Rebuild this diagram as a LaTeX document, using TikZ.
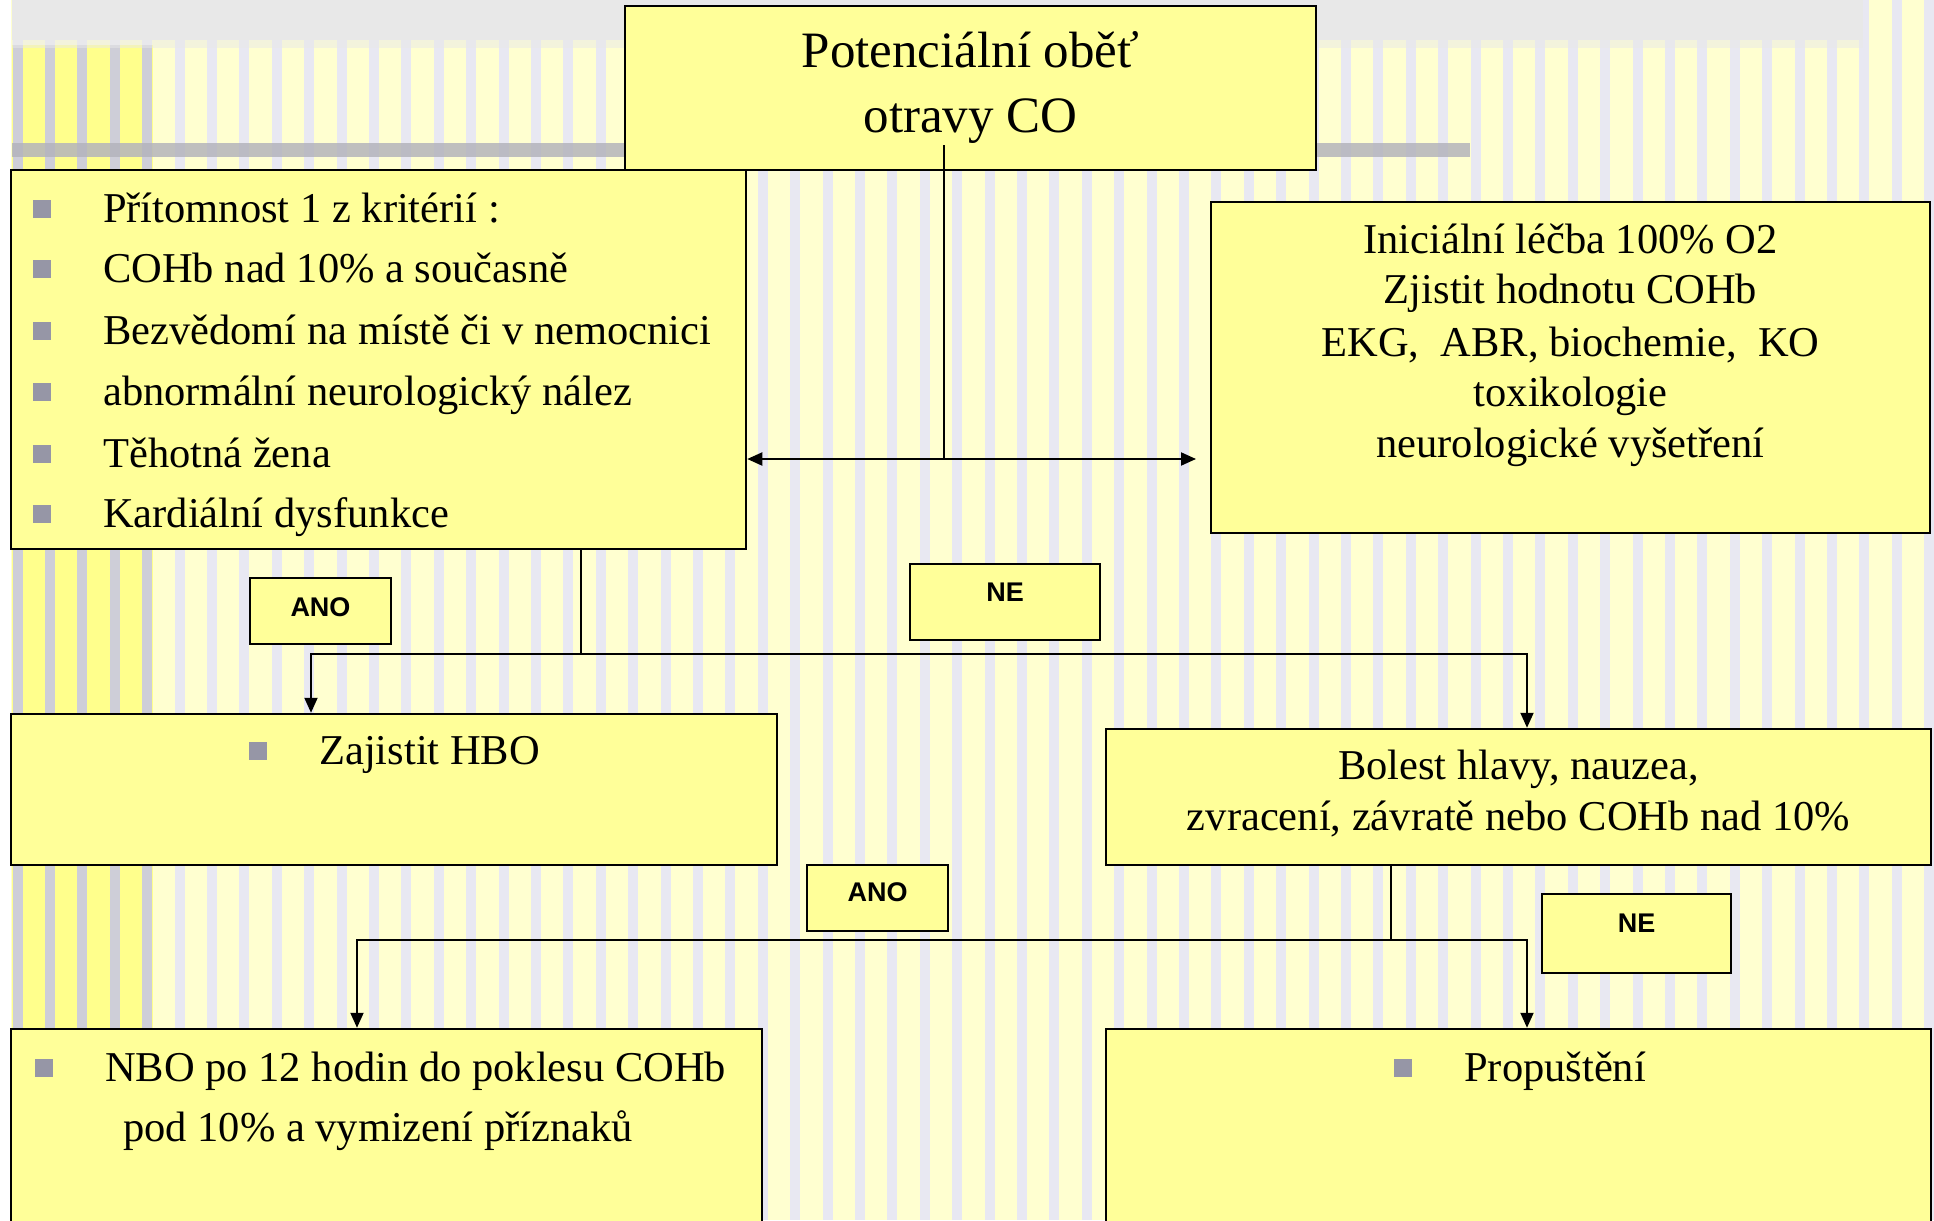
\documentclass[tikz,border=0pt]{standalone}
\usepackage{fontspec}
\setmainfont{Liberation Serif}
\newfontfamily\labelfont{Liberation Sans}
\usetikzlibrary{arrows.meta}
\definecolor{boxyellow}{RGB}{255,255,153}
\definecolor{paleyellow}{RGB}{255,255,208}
\definecolor{stripelav}{RGB}{232,232,242}
\definecolor{deepyellow}{RGB}{255,255,140}
\definecolor{stripegray}{RGB}{206,206,216}
\definecolor{bandgray}{RGB}{232,232,232}
\definecolor{bargray}{RGB}{180,180,188}
\definecolor{bulletgray}{RGB}{150,150,166}
\newcommand{\blt}{\makebox[70pt][l]{\textcolor{bulletgray}{\raisebox{4pt}{\rule{18pt}{18pt}}}}}
\begin{document}
\begin{tikzpicture}[x=1pt,y=-1pt]
\tikzstyle{every node}+=[inner sep=0pt]
\tikzstyle{box}=[draw=black, fill=boxyellow, line width=2.5pt]
\tikzstyle{txt}=[font=\fontsize{42.5}{61}\selectfont, anchor=base]
\tikzstyle{txtl}=[txt, anchor=base west]
\tikzstyle{tag}=[font=\labelfont\bfseries\fontsize{27}{32}\selectfont]
\tikzstyle{wire}=[line width=2pt]
\tikzstyle{arr}=[wire, -{Triangle[length=15pt,width=13pt]}]
\useasboundingbox (0,0) rectangle (1934,1220);
\clip (0,0) rectangle (1934,1220);
\fill [paleyellow] (0,0) rectangle (1934,1220);
\foreach \k in {0,...,59} \fill [stripelav] ({12.6+32.4*\k},0) rectangle ++(10,1220);
\fill [deepyellow] (12,45) rectangle (153,1220);
\foreach \k in {0,...,4} \fill [stripegray] ({12.6+32.4*\k},45) rectangle ++(10,1175);
\fill [bandgray] (12,0) rectangle (1863,40);
\fill [bandgray, opacity=0.5] (12,40) rectangle (1863,48);
\fill [bargray, opacity=0.85] (12,143) rectangle (1470,157);
\fill [white] (0,0) rectangle (11,1220);
\node [box, minimum width=691pt, minimum height=164pt] (top) at (970.5,88) {};
\node [box, minimum width=735pt, minimum height=379pt] (crit) at (378.5,359.5) {};
\node [box, minimum width=719pt, minimum height=331pt] (init) at (1570.5,367.5) {};
\node [box, minimum width=766pt, minimum height=151pt] (hbo) at (394,789.5) {};
\node [box, minimum width=825pt, minimum height=136pt] (symp) at (1518.5,797) {};
\node [box, minimum width=751pt, minimum height=211pt] (nbo) at (386.5,1134.5) {};
\node [box, minimum width=825pt, minimum height=211pt] (dis) at (1518.5,1134.5) {};
\node [box, minimum width=141pt, minimum height=66pt] (yes1) at (320.5,611) {};
\node [box, minimum width=190pt, minimum height=76pt] (no1) at (1005,602) {};
\node [box, minimum width=141pt, minimum height=66pt] (yes2) at (877.5,898) {};
\node [box, minimum width=189pt, minimum height=79pt] (no2) at (1636.5,933.5) {};
\node [txt, font=\fontsize{51}{64}\selectfont] (top1) at (970.5,68) {Potenciální oběť};
\node [txt, font=\fontsize{51}{64}\selectfont] (top2) at (970.5,132) {otravy CO};
\node [txtl] (k1) at (33,222) {\blt Přítomnost 1 z kritérií :};
\node [txtl] (k2) at (33,282) {\blt COHb nad 10\% a současně};
\node [txtl] (k3) at (33,344) {\blt Bezvědomí na místě či v nemocnici};
\node [txtl] (k4) at (33,405) {\blt abnormální neurologický nález};
\node [txtl] (k5) at (33,467) {\blt Těhotná žena};
\node [txtl] (k6) at (33,527) {\blt Kardiální dysfunkce};
\node [txt] (i1) at (1570.5,253) {Iniciální léčba 100\% O2};
\node [txt] (i2) at (1570.5,303.5) {Zjistit hodnotu COHb};
\node [txt] (i3) at (1570.5,356) {EKG,\ \ ABR, biochemie,\ \ KO};
\node [txt] (i4) at (1570.5,406.6) {toxikologie};
\node [txt] (i5) at (1570.5,457) {neurologické vyšetření};
\node [txtl] (h1) at (249,764) {\blt Zajistit HBO};
\node [txt] (s1) at (1518.5,779) {Bolest hlavy, nauzea,};
\node [txt] (s2) at (1518.5,830) {zvracení, závratě nebo COHb nad 10\%};
\node [txtl] (n1) at (35,1081) {\blt NBO po 12 hodin do poklesu COHb};
\node [txtl] (n2) at (123,1141) {pod 10\% a vymizení příznaků};
\node [txtl] (d1) at (1394,1081) {\blt Propuštění};
\node [tag] (t1) at (320.5,607) {ANO};
\node [tag] (t2) at (1005,592) {NE};
\node [tag] (t3) at (877.5,892) {ANO};
\node [tag] (t4) at (1636.5,923) {NE};
\coordinate (v0) at (943.5,145);
\coordinate (v1) at (943.5,459);
\coordinate (v2) at (1196,459);
\draw [wire] (v0) -- (v1);
\draw [wire, {Triangle[length=15pt,width=13pt]}-{Triangle[length=15pt,width=13pt]}] (crit.east |- v2) -- (v2);
\coordinate (j1) at (581,654);
\coordinate (j1l) at (311,654);
\coordinate (j1r) at (1527,654);
\draw [wire] (crit.south -| j1) -- (j1);
\draw [arr] (j1) -| (j1l |- hbo.north);
\draw [arr] (j1) -| (j1r |- symp.north);
\coordinate (j2) at (1391,940);
\coordinate (j2l) at (357,940);
\coordinate (j2r) at (1527,940);
\draw [wire] (symp.south -| j2) -- (j2);
\draw [arr] (j2) -| (j2l |- nbo.north);
\draw [arr] (j2) -| (j2r |- dis.north);
\end{tikzpicture}
\end{document}
